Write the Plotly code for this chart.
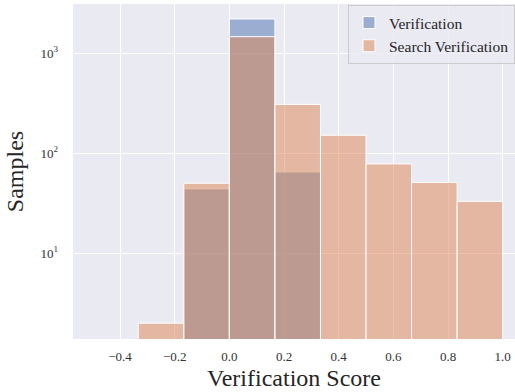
import plotly.graph_objects as go

# bin edges (width 1/6)
bin_edges = [-1/3, -1/6, 0.0, 1/6, 1/3, 1/2, 2/3, 5/6, 1.0]
verification_counts = [0, 44, 2190, 65, 0, 0, 0, 0]
search_counts = [2, 50, 1456, 307, 151, 78, 51, 33]
x_ticks = [-0.4, -0.2, 0.0, 0.2, 0.4, 0.6, 0.8, 1.0]
x_tick_labels = ["\u22120.4", "\u22120.2", "0.0", "0.2", "0.4", "0.6", "0.8", "1.0"]
y_ticks = [10, 100, 1000]
y_tick_labels = ["10<sup>1</sup>", "10<sup>2</sup>", "10<sup>3</sup>"]

FONT = "Liberation Serif"
TXT = "#262626"

def bars(counts):
    xs, ws, ys = [], [], []
    for i, c in enumerate(counts):
        if c > 0:
            xs.append((bin_edges[i] + bin_edges[i + 1]) / 2)
            ws.append(bin_edges[i + 1] - bin_edges[i])
            ys.append(c)
    return xs, ws, ys

fig = go.Figure()
for name, counts, color in [
    ("Verification", verification_counts, "rgba(76,114,176,0.5)"),
    ("Search Verification", search_counts, "rgba(221,132,82,0.5)"),
]:
    xs, ws, ys = bars(counts)
    fig.add_trace(go.Bar(x=xs, y=ys, width=ws, name=name,
                         marker=dict(color=color, line=dict(color="white", width=1))))

tickfont = dict(family=FONT, color="#333333", size=13)
fig.update_layout(
    width=515, height=392,
    margin=dict(l=73, r=0, t=4, b=53),
    barmode="overlay",
    paper_bgcolor="white", plot_bgcolor="#EAEAF2",
    font=dict(family=FONT, color=TXT, size=13),
    legend=dict(x=1, y=0.997, xanchor="right", yanchor="top",
                bgcolor="rgba(234,234,242,0.8)", bordercolor="#CCCCCC", borderwidth=1,
                font=dict(size=15.5, family=FONT, color=TXT), tracegroupgap=0, itemwidth=30),
    xaxis=dict(range=[-0.572, 1.045], tickvals=x_ticks, ticktext=x_tick_labels,
               tickfont=tickfont,
               showgrid=True, gridcolor="white", gridwidth=1, zeroline=False,
               showline=False, ticks="", ticklabelstandoff=8,
               title=dict(text="Verification Score", font=dict(size=24, family=FONT, color=TXT), standoff=6)),
    yaxis=dict(type="log", range=[0.143, 3.49], tickvals=y_ticks, ticktext=y_tick_labels,
               tickfont=tickfont,
               showgrid=True, gridcolor="white", gridwidth=1, zeroline=False,
               showline=False, ticks="", ticklabelstandoff=14,
               title=dict(text="Samples", font=dict(size=24, family=FONT, color=TXT), standoff=10)),
)
fig.write_html("out.html", config={"displayModeBar": False},
               post_script="document.body.style.margin='0';")
